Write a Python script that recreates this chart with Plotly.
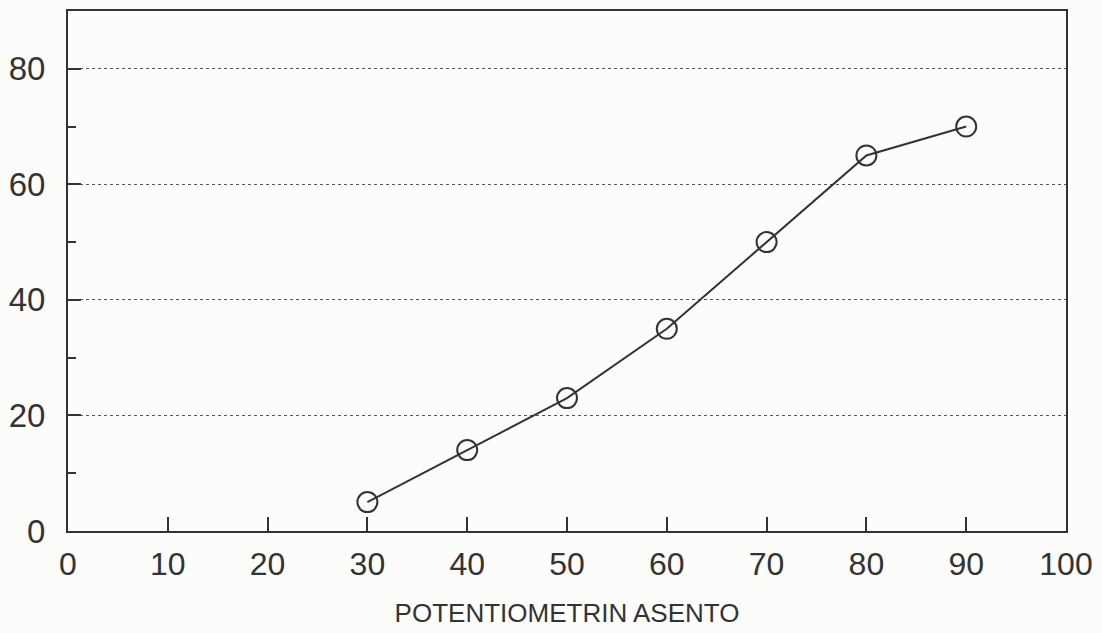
import plotly.graph_objects as go

# Potentiometer setting vs. measured response
potentiometer_setting = [30, 40, 50, 60, 70, 80, 90]
response = [5, 14, 23, 35, 50, 65, 70]

x_ticks = [0, 10, 20, 30, 40, 50, 60, 70, 80, 90, 100]
y_ticks = [0, 20, 40, 60, 80]

ink = "#333333"
paper = "#fcfcfa"
font_family = "Liberation Sans, Arial, sans-serif"

fig = go.Figure()
fig.add_trace(go.Scatter(
    x=potentiometer_setting,
    y=response,
    mode="lines+markers",
    line=dict(color=ink, width=2),
    marker=dict(symbol="circle-open", size=20, color=ink, line=dict(width=2, color=ink)),
    showlegend=False,
))

fig.update_layout(
    width=1102, height=633,
    margin=dict(l=66, r=36, t=9, b=102),
    paper_bgcolor=paper,
    plot_bgcolor=paper,
    font=dict(family=font_family, color=ink),
)

fig.update_xaxes(
    range=[0, 100],
    tickvals=x_ticks,
    ticktext=[str(v) for v in x_ticks],
    ticks="inside", ticklen=14, tickwidth=1.5, tickcolor=ink,
    tickfont=dict(size=32, family=font_family, color=ink),
    showgrid=False, zeroline=False,
    showline=True, linecolor=ink, linewidth=2, mirror=True,
    ticklabelstandoff=4,
    title=dict(text="POTENTIOMETRIN ASENTO", font=dict(size=26, family=font_family, color=ink), standoff=22),
)

fig.update_yaxes(
    range=[0, 90],
    tickvals=y_ticks,
    ticktext=[str(v) for v in y_ticks],
    ticks="inside", ticklen=13, tickwidth=1.5, tickcolor=ink,
    minor=dict(dtick=10, tick0=0, ticks="inside", ticklen=8, tickwidth=1.5, tickcolor=ink, showgrid=False),
    tickfont=dict(size=33, family=font_family, color=ink),
    showgrid=True, gridcolor="#555555", gridwidth=1, griddash="dot",
    zeroline=False,
    showline=True, linecolor=ink, linewidth=2, mirror=True,
    ticklabelstandoff=14,
)

fig.write_html("out.html")
